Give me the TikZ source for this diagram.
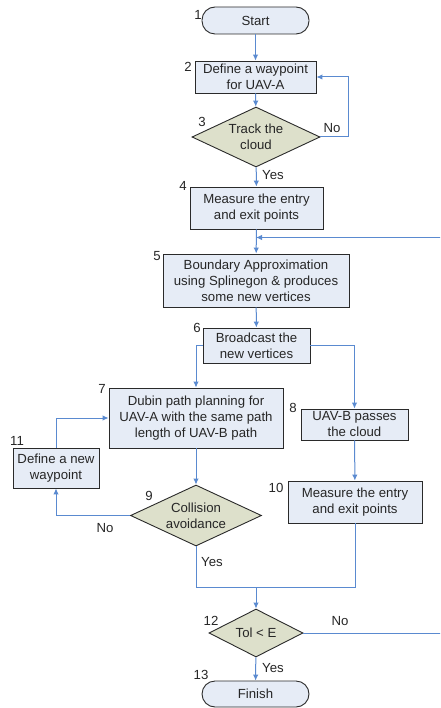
\documentclass[tikz,border=0pt]{standalone}
\usepackage{fontspec}
\setmainfont{Liberation Sans}
\usetikzlibrary{shapes.geometric,arrows.meta}
\definecolor{boxfill}{HTML}{E6ECF6}
\definecolor{dfill}{HTML}{DDE0CB}
\definecolor{lineblue}{HTML}{5A8AD0}
\definecolor{bord}{HTML}{2A2A2A}
\tikzset{
  x=1pt,y=-1pt,
  every node/.style={font=\fontsize{13.2}{16}\selectfont, text=black!85},
  procbox/.style={draw=bord, line width=0.9pt, fill=boxfill, rectangle, inner sep=0pt, align=center},
  termbox/.style={procbox, rounded corners=13pt},
  decbox/.style={draw=bord, line width=0.9pt, fill=dfill, diamond, aspect=2, inner sep=0pt, align=center},
  num/.style={inner sep=0pt},
  lbl/.style={inner sep=0pt},
  conn/.style={draw=lineblue, line width=1pt},
  arr/.style={conn, -{Latex[length=6pt,width=5.5pt]}},
}
\begin{document}
\begin{tikzpicture}
\useasboundingbox (0,0) rectangle (440,708);
\clip (0,0) rectangle (440,708);
% nodes
\node[termbox, minimum width=107, minimum height=27] (start) at (255.5,20.5) {Start};
\node[procbox, minimum width=121, minimum height=32] (b2) at (255.5,77) {Define a waypoint\\for UAV-A};
\node[decbox, minimum width=128, minimum height=60] (d3) at (256,137) {Track the\\cloud};
\node[procbox, minimum width=133, minimum height=42] (b4) at (256.5,208) {Measure the entry\\and exit points};
\node[procbox, minimum width=186, minimum height=53] (b5) at (256,280.5) {Boundary Approximation\\using Splinegon \& produces\\some new vertices};
\node[procbox, minimum width=107, minimum height=35] (b6) at (256.5,345.5) {Broadcast the\\new vertices};
\node[procbox, minimum width=174, minimum height=60] (b7) at (196,418) {Dubin path planning for\\UAV-A with the same path\\length of UAV-B path};
\node[procbox, minimum width=107, minimum height=31] (b8) at (354.5,424.5) {UAV-B passes\\the cloud};
\node[decbox, minimum width=131, minimum height=61] (d9) at (196,515.5) {Collision\\avoidance};
\node[procbox, minimum width=134, minimum height=42] (b10) at (355,502) {Measure the entry\\and exit points};
\node[procbox, minimum width=86, minimum height=40] (b11) at (56,468) {Define a new\\waypoint};
\node[decbox, minimum width=94, minimum height=48] (d12) at (256,633) {Tol < E};
\node[termbox, minimum width=107, minimum height=26] (finish) at (255.5,694) {Finish};
% numbers
\node[num] (n1) at (198,15) {1};
\node[num] (n2) at (188,67) {2};
\node[num] (n3) at (202,122) {3};
\node[num] (n4) at (183,186) {4};
\node[num] (n5) at (157,256) {5};
\node[num] (n6) at (197,328) {6};
\node[num] (n7) at (102,389) {7};
\node[num] (n8) at (293,408) {8};
\node[num] (n9) at (149,496) {9};
\node[num] (n10) at (276,488) {10};
\node[num] (n11) at (17,441) {11};
\node[num] (n12) at (211,621) {12};
\node[num] (n13) at (201,675) {13};
% labels
\node[lbl] (l3no) at (332,128) {No};
\node[lbl] (l3yes) at (273,175) {Yes};
\node[lbl] (l9no) at (105,528) {No};
\node[lbl] (l9yes) at (212,562) {Yes};
\node[lbl] (l12no) at (340,621) {No};
\node[lbl] (l12yes) at (273,668) {Yes};
% coordinates
\coordinate (m5) at (256,237.5);
\coordinate (j) at (256,587);
\coordinate (loopR) at (348,137);
\coordinate (farR) at (445,633);
% connectors
\draw[arr] (start) -- (b2);
\draw[arr] (b2) -- (d3);
\draw[arr] (d3.east) -- (loopR) |- (b2.east);
\draw[arr] (d3) -- (b4);
\draw[arr] (b4) -- (b5);
\draw[arr] (d12.east) -- (farR) |- (m5);
\draw[arr] (b5) -- (b6);
\draw[arr] (b6.west) -| (b7.north);
\draw[arr] (b6.east) -| (b8.north);
\draw[arr] (b7) -- (d9);
\draw[arr] (d9.west) -| (b11.south);
\draw[arr] (b11.north) |- (b7.west);
\draw[arr] (b8) -- (b10);
\draw[conn] (d9.south) |- (j);
\draw[conn] (b10.south) |- (j);
\draw[arr] (j) -- (d12.north);
\draw[arr] (d12) -- (finish);
\end{tikzpicture}
\end{document}
